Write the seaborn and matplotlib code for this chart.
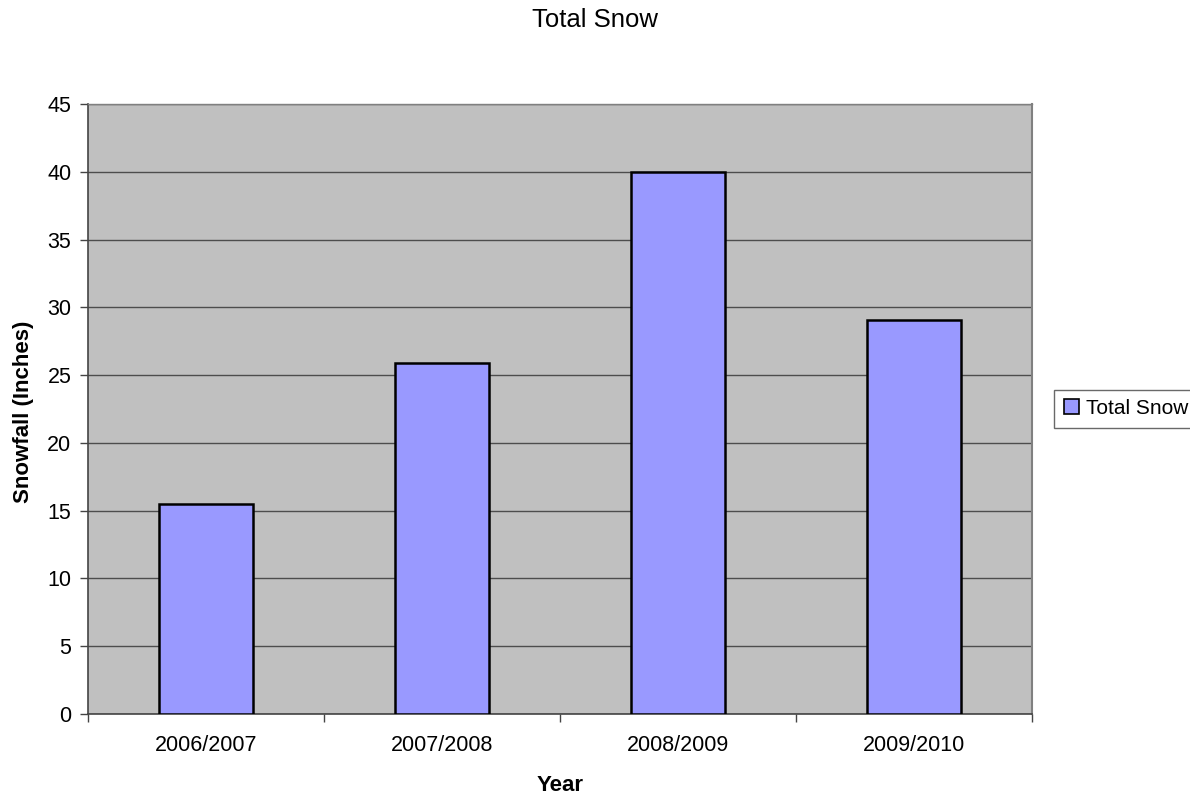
import pandas as pd
import seaborn as sns
import matplotlib.pyplot as plt
from matplotlib.patches import Patch

years = ['2006/2007', '2007/2008', '2008/2009', '2009/2010']
snow = [15.5, 25.9, 40.0, 29.1]

df = pd.DataFrame({'Year': years, 'Snow': snow})

sns.set_style('white')
plt.rcParams['font.family'] = ['Liberation Sans', 'DejaVu Sans']
plt.rcParams['text.color'] = 'black'
plt.rcParams['axes.labelcolor'] = 'black'
plt.rcParams['xtick.color'] = 'black'
plt.rcParams['ytick.color'] = 'black'

fig = plt.figure(figsize=(11.9, 7.95), dpi=100)
ax = fig.add_axes([0.074, 0.102, 0.793, 0.767])
ax.set_facecolor('#C0C0C0')

sns.barplot(data=df, x='Year', y='Snow', color='#9999FF', edgecolor='black',
            linewidth=1.8, width=0.4, saturation=1, ax=ax, zorder=3)

ax.set_ylim(0, 45)
ax.set_xlim(-0.5, 3.5)
ax.set_yticks(range(0, 50, 5))
ax.yaxis.grid(True, color='#4d4d4d', linewidth=1, zorder=0)
ax.set_axisbelow(True)

# ticks at category boundaries, labels at centres
ax.set_xticks([-0.5, 0.5, 1.5, 2.5, 3.5], minor=True)
ax.tick_params(axis='x', which='major', length=0, pad=15, labelsize=15.5, labelcolor='black')
ax.tick_params(axis='x', which='minor', length=6, width=1, color='#444444', direction='out', bottom=True)
ax.tick_params(axis='y', length=6, width=1, color='#444444', direction='out', left=True,
               labelsize=15.5, pad=6, labelcolor='black')

for s in ['left', 'bottom']:
    ax.spines[s].set_color('#444444')
    ax.spines[s].set_linewidth(1.2)
ax.spines['right'].set_color('#808080')
ax.spines['right'].set_linewidth(1.5)
ax.spines['top'].set_color('#808080')
ax.spines['top'].set_linewidth(1.0)

ax.set_xlabel('Year', fontsize=16, fontweight='bold')
ax.set_ylabel('Snowfall (Inches)', fontsize=16, fontweight='bold')
ax.xaxis.set_label_coords(0.5, -0.118)
ax.xaxis.label.set_va('center')
ax.yaxis.set_label_coords(-0.068, 0.495)
ax.yaxis.label.set_va('center')

fig.text(0.5, 0.975, 'Total Snow', fontsize=18.5, ha='center', va='center')

handle = Patch(facecolor='#9999FF', edgecolor='black', linewidth=1.2, label='Total Snow')
leg = fig.legend(handles=[handle], loc='center left', bbox_to_anchor=(0.886, 0.486),
                 borderaxespad=0, fontsize=15, frameon=True, fancybox=False,
                 handlelength=0.75, handleheight=0.75, handletextpad=0.3, borderpad=0.45)
leg.get_frame().set_edgecolor('#444444')
leg.get_frame().set_linewidth(1)

fig.savefig('out.png', dpi=100)
